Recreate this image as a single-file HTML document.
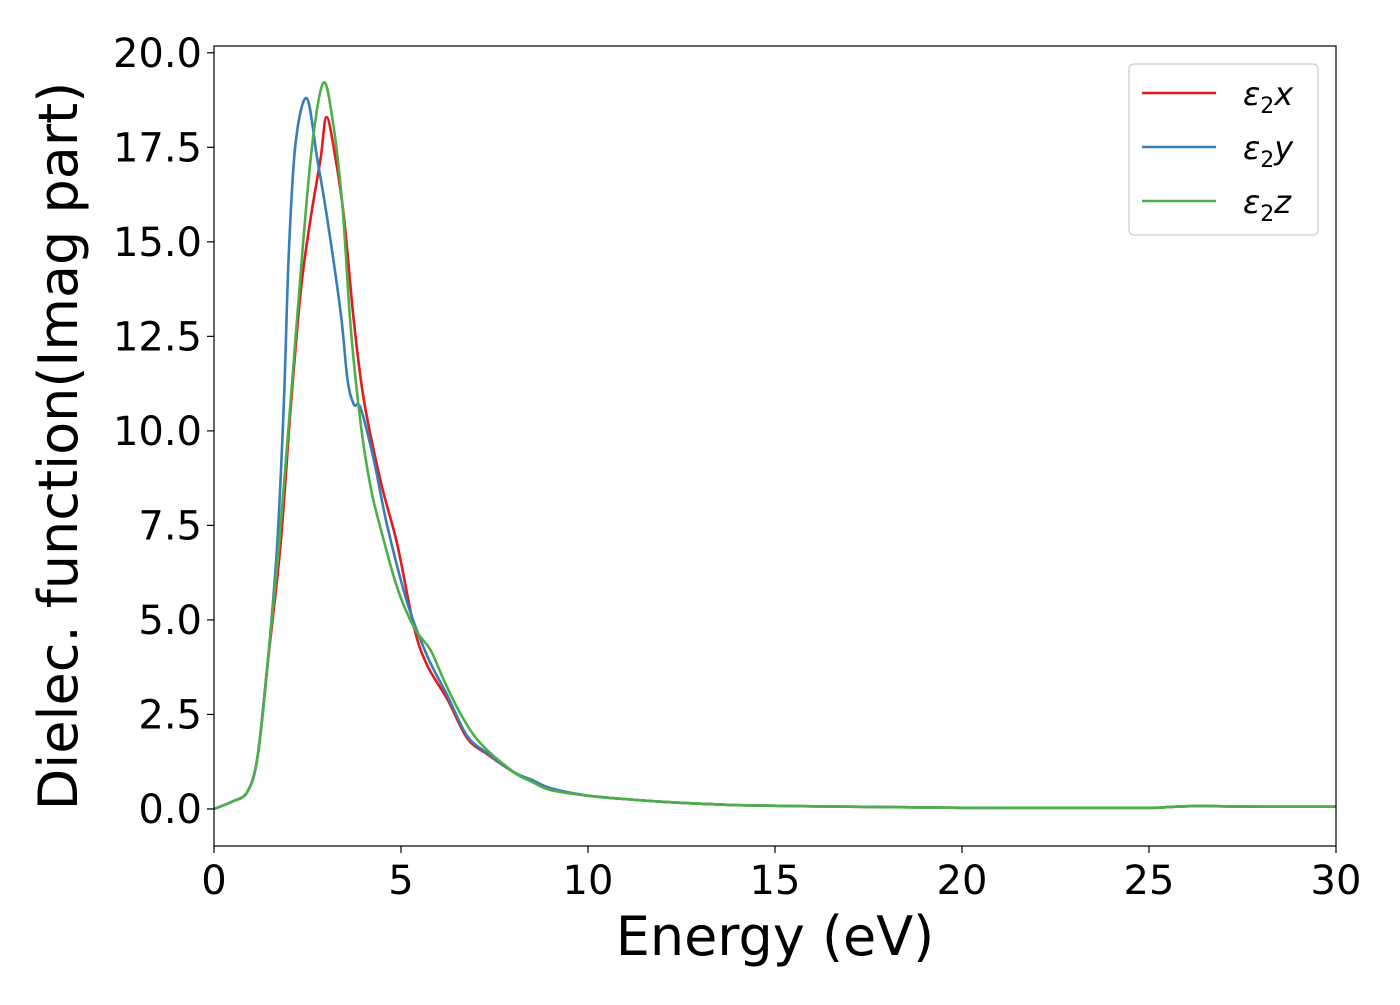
<!DOCTYPE html>
<html><head><meta charset="utf-8"><style>
html,body{margin:0;padding:0;background:#fff;}
svg text{font-family:"DejaVu Sans","Liberation Sans",sans-serif;fill:#000;}
</style></head><body>
<svg id="chart" width="1400" height="1000" xmlns="http://www.w3.org/2000/svg">
<g id="plot"></g>
</svg>
<script>
const xTicks = [0, 5, 10, 15, 20, 25, 30];
const yTicks = [0.0, 2.5, 5.0, 7.5, 10.0, 12.5, 15.0, 17.5, 20.0];
const tailE = [8.5, 9, 10, 11, 12, 13, 14, 16, 18, 20, 22, 25, 25.5, 26.3, 27, 28, 30];
const tailV = [0.72, 0.5, 0.35, 0.26, 0.19, 0.14, 0.1, 0.07, 0.05, 0.03, 0.03, 0.03, 0.05, 0.08, 0.07, 0.06, 0.06];
const xE = [0, 0.5, 0.89, 1.16, 1.43, 1.78, 2.05, 2.32, 2.58, 2.85, 3.01, 3.25, 3.48, 3.74, 4.01, 4.46, 4.9, 5.35, 5.7, 6.24, 6.77, 7.3, 8.02];
const xV = [0, 0.2, 0.45, 1.35, 3.8, 7.0, 10.6, 13.7, 15.6, 17.2, 18.3, 17.2, 15.6, 12.9, 10.8, 8.65, 7.0, 4.8, 3.8, 2.9, 1.87, 1.45, 0.97];
const yE = [0, 0.5, 0.89, 1.16, 1.43, 1.69, 1.87, 2.0, 2.18, 2.48, 2.76, 3.03, 3.39, 3.57, 3.74, 3.92, 4.28, 4.63, 5.17, 5.7, 6.24, 6.77, 7.3, 8.02];
const yV = [0, 0.2, 0.45, 1.35, 3.8, 7.0, 10.8, 14.7, 17.6, 18.8, 17.2, 15.6, 13.1, 11.35, 10.7, 10.6, 9.2, 7.5, 5.45, 4.05, 3.0, 1.93, 1.48, 0.97];
const zE = [0, 0.5, 0.89, 1.16, 1.43, 1.74, 2.05, 2.36, 2.63, 2.92, 3.16, 3.43, 3.65, 3.92, 4.19, 4.46, 4.9, 5.35, 5.79, 6.15, 6.6, 7.13, 8.02];
const zV = [0, 0.2, 0.45, 1.35, 3.8, 7.0, 10.8, 14.7, 17.6, 19.2, 18.3, 16.0, 12.8, 10.2, 8.5, 7.4, 5.85, 4.8, 4.2, 3.4, 2.5, 1.73, 0.97];
const seriesNames = ["x", "y", "z"];
const colors = ["#e41a1c", "#377eb8", "#4daf4a"];

const NS = "http://www.w3.org/2000/svg";
const L = 214, R = 1336, T = 46, B = 846;
const xMin = 0, xMax = 30, yMin = -0.98, yMax = 20.18;
const sx = v => L + (v - xMin) / (xMax - xMin) * (R - L);
const sy = v => B - (v - yMin) / (yMax - yMin) * (B - T);
const plot = document.getElementById("plot");
function mk(tag, attrs, parent) {
  const e = document.createElementNS(NS, tag);
  for (const k in attrs) e.setAttribute(k, attrs[k]);
  (parent || plot).appendChild(e);
  return e;
}
function smoothPath(pts) {
  let d = "M" + pts[0][0].toFixed(2) + "," + pts[0][1].toFixed(2);
  for (let i = 0; i < pts.length - 1; i++) {
    const p0 = pts[Math.max(0, i - 1)], p1 = pts[i], p2 = pts[i + 1], p3 = pts[Math.min(pts.length - 1, i + 2)];
    const c1 = [p1[0] + (p2[0] - p0[0]) / 6, p1[1] + (p2[1] - p0[1]) / 6];
    const c2 = [p2[0] - (p3[0] - p1[0]) / 6, p2[1] - (p3[1] - p1[1]) / 6];
    d += "C" + c1[0].toFixed(2) + "," + c1[1].toFixed(2) + " " + c2[0].toFixed(2) + "," + c2[1].toFixed(2) + " " + p2[0].toFixed(2) + "," + p2[1].toFixed(2);
  }
  return d;
}
const allE = [xE, yE, zE], allV = [xV, yV, zV];
allE.forEach((E, si) => {
  const pts = E.map((e, i) => [sx(e), sy(allV[si][i])]);
  tailE.forEach((e, i) => pts.push([sx(e), sy(tailV[i] + (si === 1 && e <= 9 ? 0.05 : 0))]));
  const p = mk("path", {d: smoothPath(pts), fill: "none", stroke: colors[si], "stroke-width": 2.6, "stroke-linejoin": "round"});
  
  
});
// frame
const fr = mk("rect", {x: L, y: T, width: R - L, height: B - T, fill: "none", stroke: "#000", "stroke-width": 1.2});


xTicks.forEach(t => {
  const ln = mk("line", {x1: sx(t), x2: sx(t), y1: B, y2: B + 7, stroke: "#000", "stroke-width": 1.2});
  
  
  const tx = mk("text", {x: sx(t), y: B + 48, "text-anchor": "middle", "font-size": 40});
  tx.textContent = t;
  
  
});
yTicks.forEach(t => {
  const ln = mk("line", {x1: L - 7, x2: L, y1: sy(t), y2: sy(t), stroke: "#000", "stroke-width": 1.2});
  
  
  const tx = mk("text", {x: L - 12, y: sy(t) + 14, "text-anchor": "end", "font-size": 40});
  tx.textContent = t.toFixed(1);
  
  
});
const xl = mk("text", {x: (L + R) / 2, y: 955, "text-anchor": "middle", "font-size": 54});
xl.textContent = "Energy (eV)";


const yl = mk("text", {x: 0, y: 0, "text-anchor": "middle", "font-size": 54, transform: "translate(77," + ((T + B) / 2) + ") rotate(-90)"});
yl.textContent = "Dielec. function(Imag part)";


// legend
const lg = mk("g", {});


mk("rect", {x: 1129, y: 64, width: 189, height: 171, rx: 5, fill: "#fff", stroke: "#ccc", "stroke-width": 1.2}, lg);
seriesNames.forEach((n, i) => {
  const y = 93 + i * 54;
  const ln = mk("line", {x1: 1142, x2: 1216, y1: y, y2: y, stroke: colors[i], "stroke-width": 2.6}, lg);
  
  
  const tx = mk("text", {x: 1243, y: y + 12, "font-size": 32, "font-style": "italic"}, lg);
  tx.innerHTML = 'ε<tspan font-style="normal" font-size="22" dy="8">2</tspan><tspan dy="-8">' + n + '</tspan>';
  
  
});
</script>
</body></html>
